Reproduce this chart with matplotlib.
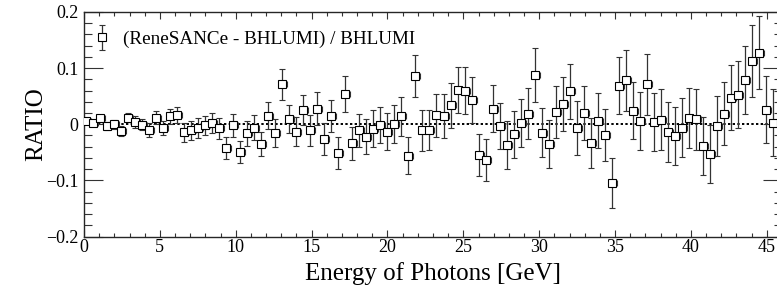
import numpy as np
import matplotlib
matplotlib.use("Agg")
import matplotlib.pyplot as plt
from matplotlib.ticker import MultipleLocator, FixedLocator, FixedFormatter
from matplotlib.legend_handler import HandlerErrorbar

ratio = [0.005, 0.003, 0.011, -0.003, 0.000, -0.012, 0.012, 0.004, -0.001, -0.011,
         0.012, -0.006, 0.014, 0.016, -0.014, -0.011, -0.007, -0.002, 0.002, -0.007,
         -0.042, -0.002, -0.049, -0.016, -0.006, -0.035, 0.015, -0.015, 0.071, 0.010,
         -0.013, 0.026, -0.011, 0.028, -0.026, 0.015, -0.051, 0.054, -0.034, -0.011,
         -0.022, -0.008, -0.001, -0.013, 0.000, 0.014, -0.056, 0.086, -0.011, -0.010,
         0.016, 0.015, 0.034, 0.061, 0.060, 0.043, -0.055, -0.064, 0.028, -0.003,
         -0.037, -0.018, 0.002, 0.019, 0.088, -0.015, -0.035, 0.022, 0.036, 0.059,
         -0.007, 0.020, -0.033, 0.006, -0.019, -0.105, 0.069, 0.078, 0.024, 0.006,
         0.071, 0.004, 0.008, -0.014, -0.021, -0.006, 0.011, 0.009, -0.039, -0.053,
         -0.003, 0.019, 0.047, 0.053, 0.079, 0.113, 0.127, 0.026, 0.003]

ratio_err = [0.003, 0.003, 0.005, 0.007, 0.008, 0.0095, 0.0085, 0.011, 0.010, 0.0125,
             0.011, 0.0125, 0.013, 0.014, 0.017, 0.017, 0.018, 0.017, 0.018, 0.019,
             0.020, 0.021, 0.020, 0.022, 0.022, 0.022, 0.024, 0.025, 0.027, 0.025,
             0.026, 0.027, 0.027, 0.029, 0.028, 0.029, 0.028, 0.032, 0.029, 0.029,
             0.031, 0.033, 0.032, 0.033, 0.034, 0.035, 0.033, 0.037, 0.036, 0.035,
             0.038, 0.039, 0.040, 0.041, 0.042, 0.041, 0.038, 0.038, 0.042, 0.041,
             0.042, 0.042, 0.043, 0.045, 0.048, 0.044, 0.043, 0.046, 0.048, 0.049,
             0.048, 0.048, 0.045, 0.049, 0.047, 0.044, 0.051, 0.054, 0.051, 0.052,
             0.054, 0.052, 0.054, 0.053, 0.051, 0.052, 0.054, 0.054, 0.052, 0.051,
             0.054, 0.056, 0.058, 0.060, 0.061, 0.064, 0.065, 0.060, 0.059]

bin_start = 0.1
bin_step = 0.4626
energy = bin_start + bin_step * np.arange(len(ratio))

ytick_vals = [-0.2, -0.1, 0.0, 0.1, 0.2]
ytick_labels = ["\u22120.2", "\u22120.1", "0", "0.1", "0.2"]
legend_label = "(ReneSANCe - BHLUMI) / BHLUMI"

plt.rcParams['font.family'] = ['Liberation Serif', 'DejaVu Serif']

fig = plt.figure(figsize=(7.77, 2.98), dpi=100)
ax = fig.add_axes([84/777, 1 - 236.5/298, (782 - 84)/777, (236.5 - 12)/298])

ax.axhline(0.0, color='black', linestyle=(0, (1.2, 1.2)), linewidth=1.4, zorder=1)

xerr = [np.full(len(ratio), 0.2), np.full(len(ratio), 0.33)]
eb = ax.errorbar(energy, ratio, yerr=ratio_err, xerr=xerr, fmt='s', ms=5.8,
                 mfc='white', mec='black', mew=0.8, ecolor='0.2', elinewidth=0.9,
                 capsize=2.2, capthick=0.9, label=legend_label, zorder=3)

ax.set_xlim(0, 46)
ax.set_ylim(-0.2, 0.2)

ax.xaxis.set_major_locator(MultipleLocator(5))
ax.xaxis.set_minor_locator(MultipleLocator(1))
ax.yaxis.set_major_locator(FixedLocator(ytick_vals))
ax.yaxis.set_major_formatter(FixedFormatter(ytick_labels))
ax.yaxis.set_minor_locator(MultipleLocator(0.02))

ax.tick_params(axis='both', which='both', direction='in', top=True, right=True,
               labelsize=13, width=0.8, color='0.2')
ax.tick_params(axis='x', which='major', length=5, pad=2)
ax.tick_params(axis='x', which='minor', length=3)
ax.tick_params(axis='y', which='major', length=13.5, pad=4)
ax.tick_params(axis='y', which='minor', length=5.8)

for sp in ax.spines.values():
    sp.set_linewidth(1.0)
    sp.set_color('0.15')

ax.set_ylabel("RATIO", fontsize=18, labelpad=-1)
ax.set_xlabel("Energy of Photons [GeV]", fontsize=18, labelpad=4)

leg = ax.legend(loc='upper left', bbox_to_anchor=(0.0, 0.96), frameon=False,
                fontsize=13.8, handlelength=0.9, handletextpad=0.63,
                borderaxespad=0.2, borderpad=0.3,
                handler_map={type(eb): HandlerErrorbar(xerr_size=0.0, yerr_size=0.65)})

fig.savefig("out.png", dpi=100)
